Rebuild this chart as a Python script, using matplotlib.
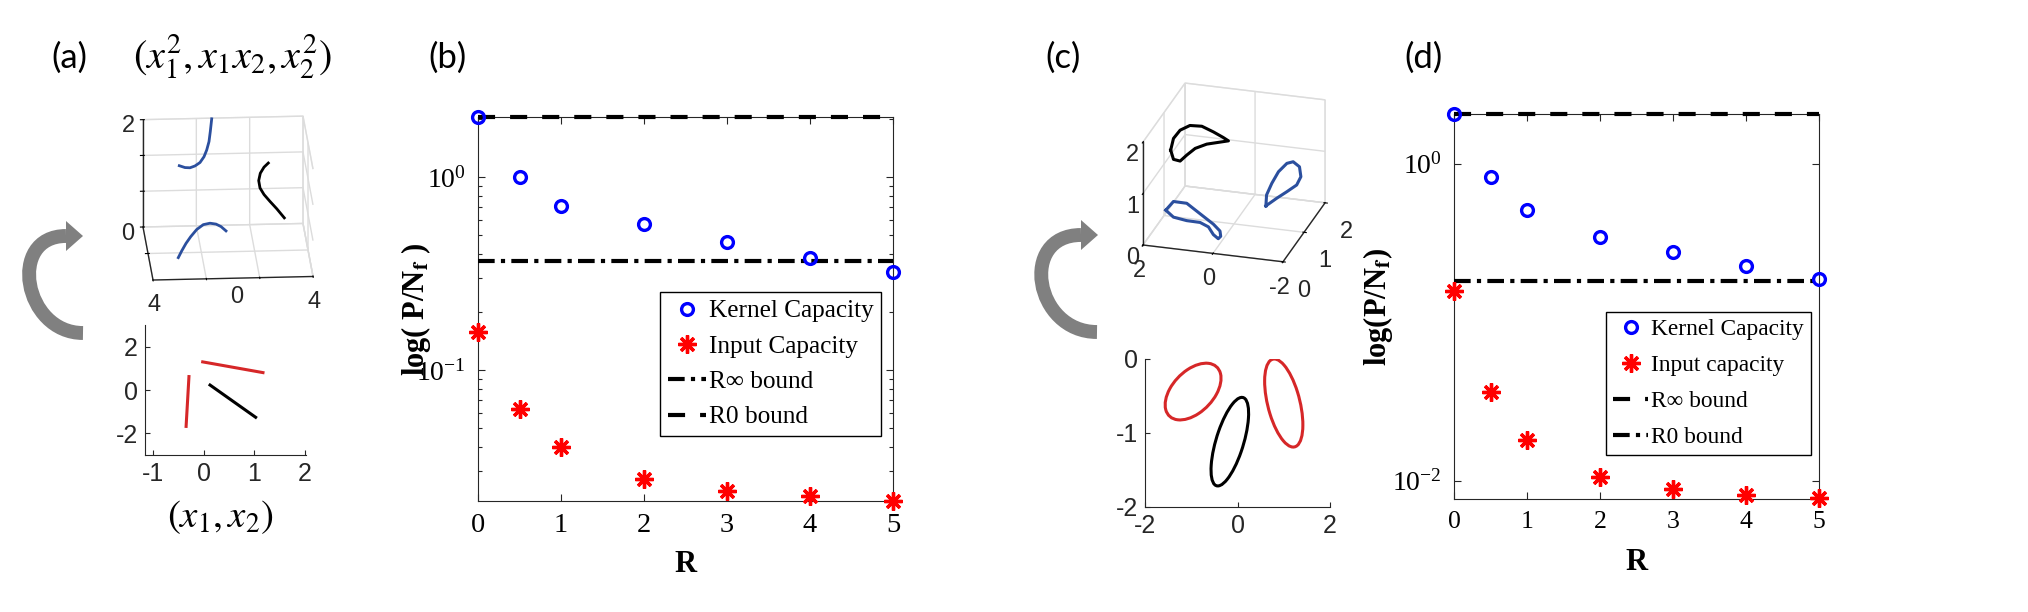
import numpy as np
import matplotlib
matplotlib.use('Agg')
import matplotlib.pyplot as plt
from matplotlib.patches import Ellipse, PathPatch, Polygon
from matplotlib.path import Path
from matplotlib.ticker import LogLocator, NullFormatter, FixedLocator, LogFormatterMathtext, NullLocator
from mpl_toolkits.mplot3d import proj3d

plt.rcParams.update({
    'font.family': ['Liberation Serif', 'DejaVu Serif'],
    'mathtext.fontset': 'stix',
    'axes.unicode_minus': False,
})

W, H, DPI = 2028, 612, 100

# ------------------------------------------------------------------ data
R_vals = [0, 0.5, 1, 2, 3, 4, 5]
R_ticks = [0, 1, 2, 3, 4, 5]

kernel_b = [2.05, 1.00, 0.71, 0.569, 0.46, 0.382, 0.321]
input_b = [0.158, 0.0626, 0.0396, 0.0271, 0.0236, 0.0221, 0.0209]
rinf_b = 0.368
r0_b = 2.05
labels_b = ['Kernel Capacity', 'Input Capacity', 'R\u221e bound', 'R0 bound']

kernel_d = [2.06, 0.83, 0.512, 0.344, 0.279, 0.227, 0.187]
input_d = [0.158, 0.0361, 0.0180, 0.0106, 0.0088, 0.0081, 0.0078]
rinf_d = 2.06
r0_d = 0.182
labels_d = ['Kernel Capacity', 'Input capacity', 'R\u221e bound', 'R0 bound']

# panel (a), input space segments
seg_red1_x = [-0.05, 1.20]; seg_red1_y = [1.31, 0.79]
seg_red2_x = [-0.29, -0.35]; seg_red2_y = [0.69, -1.75]
seg_blk_x = [0.10, 1.05];   seg_blk_y = [0.27, -1.30]

# panel (a), feature space curves (drawn on the back plane y = 4)
a3_blue1_x = [-2.185, -1.90, -1.65, -1.40, -1.15, -0.95, -0.815, -0.70, -0.635, -0.565]
a3_blue1_z = [1.127, 1.090, 1.084, 1.116, 1.178, 1.284, 1.408, 1.564, 1.751, 1.987]
a3_blue2_x = [-2.235, -2.065, -1.85, -1.615, -1.315, -0.985, -0.65, -0.35, -0.10, 0.15]
a3_blue2_z = [-0.585, -0.462, -0.323, -0.200, -0.069, 0.019, 0.043, 0.024, -0.024, -0.107]
a3_blk_x = [2.265, 2.05, 1.865, 1.785, 1.85, 2.05, 2.35, 2.685, 3.065]
a3_blk_z = [1.140, 1.065, 0.953, 0.817, 0.679, 0.555, 0.424, 0.286, 0.112]

# panel (c), input space ellipses: centre x, centre y, width, height, angle
ell_red1 = (-0.96, -0.44, 1.28, 0.64, 22.4)
ell_red2 = (1.00, -0.595, 1.288, 0.664, -63.5)
ell_blk = (-0.166, -1.117, 1.334, 0.56, 60.9)

# panel (c), feature space loops (x as labelled on the reversed axis)
c3_blk_x = [1.81, 1.73, 1.54, 1.26, 0.92, 0.59, 0.31, 0.16, 0.40, 0.78, 1.11, 1.35, 1.54, 1.73, 1.81]
c3_blk_z = [1.286, 1.519, 1.695, 1.809, 1.822, 1.739, 1.654, 1.600, 1.556, 1.486, 1.376, 1.227, 1.095, 1.113, 1.286]
c3_blk_y = 1.0
c3_blue1_x = [-0.91, -0.93, -1.08, -1.27, -1.51, -1.69, -1.87, -1.91, -1.79, -1.51, -1.22, -0.91]
c3_blue1_z = [0.424, 0.639, 0.877, 1.117, 1.299, 1.345, 1.262, 1.072, 0.902, 0.749, 0.598, 0.424]
c3_blue1_y = 1.0
c3_blue2_x = [1.35, 1.13, 0.75, 0.37, -0.01, -0.20, -0.22, -0.15, -0.01, 0.13, 0.37, 0.75, 1.13, 1.35]
c3_blue2_z = [0.730, 0.916, 0.912, 0.740, 0.569, 0.450, 0.350, 0.297, 0.366, 0.504, 0.571, 0.575, 0.612, 0.730]
c3_blue2_y = 0.0
c3_xticks = [2, 0, -2]

RED = '#d62728'
BLUE3 = '#2b4f9e'
GREY_TXT = '#262626'

fig = plt.figure(figsize=(W / DPI, H / DPI), dpi=DPI)


def rect(left, top, right, bottom):
    return [left / W, (H - bottom) / H, (right - left) / W, (bottom - top) / H]


def style_2d(ax):
    for s in ('top', 'right'):
        ax.spines[s].set_visible(False)
    for s in ('left', 'bottom'):
        ax.spines[s].set_color(GREY_TXT)
        ax.spines[s].set_linewidth(0.8)
    ax.tick_params(direction='in', length=3.5, width=0.8, color=GREY_TXT,
                   labelcolor=GREY_TXT, labelsize=18, labelfontfamily='Liberation Sans', pad=5)


def style_3d(ax):
    ax.set_proj_type('ortho')
    ax.set_facecolor('none')
    for axis in (ax.xaxis, ax.yaxis, ax.zaxis):
        axis.pane.set_facecolor((1, 1, 1, 0))
        axis.pane.set_edgecolor('#d4d4d4')
        axis._axinfo['grid'].update(color='#dcdcdc', linewidth=1.0)
        axis.line.set_color(GREY_TXT)
        axis.line.set_linewidth(1.0)
    for a in ('x', 'y', 'z'):
        ax.tick_params(axis=a, labelcolor=GREY_TXT, labelsize=17,
                       labelfontfamily='Liberation Sans', pad=0)


def place3d(ax, ptA, ptB, tgtA, tgtB):
    fig.canvas.draw()
    M = ax.get_proj()

    def disp(p):
        xs, ys, _ = proj3d.proj_transform(p[0], p[1], p[2], M)
        return np.array(ax.transData.transform((xs, ys)))
    dA, dB = disp(ptA), disp(ptB)
    tA = np.array([tgtA[0], H - tgtA[1]])
    tB = np.array([tgtB[0], H - tgtB[1]])
    k = (tB[0] - tA[0]) / (dB[0] - dA[0])
    pos = ax.get_position()
    c = np.array([(pos.x0 + pos.x1) / 2 * W, (pos.y0 + pos.y1) / 2 * H])
    w, h = pos.width * W * k, pos.height * H * k
    nc = tA - k * (dA - c)
    ax.set_position([(nc[0] - w / 2) / W, (nc[1] - h / 2) / H, w / W, h / H])


def curved_arrow(tail, apex_x, head, hl=17, hw=15, lw=10, color='#808080'):
    tx, ty = tail
    hx, hy = head
    bx = hx - hl
    k = ((tx + bx) / 2 - apex_x) / 0.75
    verts = [(tx, ty), (tx - k, ty), (bx - k, hy), (bx, hy)]
    verts = [(x / W, (H - y) / H) for x, y in verts]
    body = PathPatch(Path(verts, [Path.MOVETO, Path.CURVE4, Path.CURVE4, Path.CURVE4]),
                     fill=False, lw=lw, edgecolor=color, capstyle='butt',
                     transform=fig.transFigure)
    fig.add_artist(body)
    tri = [(hx, hy), (bx, hy - hw), (bx, hy + hw)]
    tri = [(x / W, (H - y) / H) for x, y in tri]
    fig.add_artist(Polygon(tri, closed=True, facecolor=color, edgecolor='none',
                           transform=fig.transFigure))


# ------------------------------------------------------------------ (a) 2D
ax_a2 = fig.add_axes(rect(145, 325, 306, 455))
ax_a2.plot(seg_red1_x, seg_red1_y, color=RED, lw=2.2, solid_capstyle='butt')
ax_a2.plot(seg_red2_x, seg_red2_y, color=RED, lw=2.2, solid_capstyle='butt')
ax_a2.plot(seg_blk_x, seg_blk_y, color='k', lw=2.2, solid_capstyle='butt')
ax_a2.set_xlim(-1.16, 2.02)
ax_a2.set_ylim(-3.0, 3.0)
ax_a2.set_xticks([-1, 0, 1, 2])
ax_a2.set_yticks([-2, 0, 2])
style_2d(ax_a2)

# ------------------------------------------------------------------ (a) 3D
ax_a3 = fig.add_axes([100 / W, 0.5, 230 / W, 230 / H], projection='3d')
style_3d(ax_a3)
ax_a3.view_init(elev=20, azim=-93.7)
ax_a3.set_box_aspect((160, 155, 114))
ax_a3.plot(a3_blue1_x, [4] * len(a3_blue1_x), a3_blue1_z, color=BLUE3, lw=2.0)
ax_a3.plot(a3_blue2_x, [4] * len(a3_blue2_x), a3_blue2_z, color=BLUE3, lw=2.0)
ax_a3.plot(a3_blk_x, [4] * len(a3_blk_x), a3_blk_z, color='k', lw=2.0)
ax_a3.set_xlim(-4, 4)
ax_a3.set_ylim(-4, 4)
ax_a3.set_zlim(0, 2)
ax_a3.set_xticks([-4, -4 / 3, 4 / 3, 4])
ax_a3.set_xticklabels(['4', '', '', '4'])
ax_a3.set_yticks([0])
ax_a3.yaxis.set_major_formatter(NullFormatter())
ax_a3.set_zticks([0, 2 / 3, 4 / 3, 2])
ax_a3.set_zticklabels(['0', '', '', '2'])

# ------------------------------------------------------------------ (c) 2D
ax_c2 = fig.add_axes(rect(1145, 359, 1330, 507))
for (cx, cy, w_, h_, ang), col in ((ell_red1, RED), (ell_red2, RED), (ell_blk, 'k')):
    ax_c2.add_patch(Ellipse((cx, cy), w_, h_, angle=ang, fill=False, edgecolor=col, lw=2.2))
ax_c2.set_xlim(-2, 2)
ax_c2.set_ylim(-2, 0)
ax_c2.set_xticks([-2, 0, 2])
ax_c2.set_yticks([-2, -1, 0])
style_2d(ax_c2)

# ------------------------------------------------------------------ (c) 3D
# the x axis of this panel runs from 2 (left) to -2 (right): plot -x
ax_c3 = fig.add_axes([1090 / W, 0.5, 250 / W, 250 / H], projection='3d')
style_3d(ax_c3)
ax_c3.view_init(elev=24.2, azim=-73.7)
ax_c3.set_box_aspect((146, 150, 113))
ax_c3.plot(-np.array(c3_blk_x), [c3_blk_y] * len(c3_blk_x), c3_blk_z, color='k', lw=2.2)
ax_c3.plot(-np.array(c3_blue1_x), [c3_blue1_y] * len(c3_blue1_x), c3_blue1_z, color=BLUE3, lw=2.2)
ax_c3.plot(-np.array(c3_blue2_x), [c3_blue2_y] * len(c3_blue2_x), c3_blue2_z, color=BLUE3, lw=2.2)
ax_c3.set_xlim(-2, 2)
ax_c3.set_ylim(0, 2)
ax_c3.set_zlim(0, 2)
ax_c3.set_xticks([-v for v in c3_xticks])
ax_c3.set_xticklabels([str(v) for v in c3_xticks])
ax_c3.set_yticks([0, 1, 2])
ax_c3.set_zticks([0, 1, 2])
ax_c3.zaxis.set_ticks_position('lower')
ax_c3.zaxis.set_label_position('lower')
ax_c3.tick_params(axis='z', pad=-3)
ax_c3.tick_params(axis='y', pad=5)

# ------------------------------------------------------------------ (b) and (d)
def capacity_panel(ax, kern, inp, line_top_style, line_mid_value, line_mid_style,
                   labels, order_top_first, yl, ylab, ylab_x, leg_anchor, major, minor,
                   xtick_size, leg_size, leg_spacing):
    h1, = ax.plot(R_vals, kern, ls='none', marker='o', mfc='none', mec='#0000ff',
                  ms=8.5, mew=2.4, clip_on=False, zorder=5)
    h2, = ax.plot(R_vals, inp, ls='none', marker=(8, 2, 0), color='#ff0000',
                  mec='#ff0000', ms=13, mew=2.4, clip_on=False, zorder=5)
    hm = ax.axhline(line_mid_value, color='k', lw=3, ls=line_mid_style, zorder=4)
    ht = ax.axhline(yl[1], color='k', lw=3, ls=line_top_style, clip_on=False, zorder=4)
    ax.set_yscale('log')
    ax.set_xlim(0, 5)
    ax.set_ylim(*yl)
    ax.set_xticks(R_ticks)
    ax.yaxis.set_major_locator(FixedLocator(major))
    ax.yaxis.set_major_formatter(LogFormatterMathtext())
    if minor:
        ax.yaxis.set_minor_locator(LogLocator(base=10, subs=np.arange(2, 10)))
    else:
        ax.yaxis.set_minor_locator(NullLocator())
    ax.yaxis.set_minor_formatter(NullFormatter())
    ax.tick_params(which='both', direction='in', top=True, right=True, color='#262626',
                   width=0.8)
    ax.tick_params(axis='x', labelsize=xtick_size)
    ax.tick_params(axis='y', labelsize=20)
    ax.tick_params(which='major', length=5, pad=9)
    ax.tick_params(which='minor', length=3)
    for s in ax.spines.values():
        s.set_color('#262626')
        s.set_linewidth(0.8)
    ax.set_xlabel('R', fontsize=22, fontweight='bold')
    ax.xaxis.set_label_coords(0.5, -0.128)
    ax.set_ylabel(ylab, fontsize=22, fontweight='bold')
    ax.yaxis.set_label_coords(ylab_x, 0.5)
    if order_top_first:
        handles = [h1, h2, ht, hm]
    else:
        handles = [h1, h2, hm, ht]
    leg = ax.legend(handles, labels, loc='upper right', bbox_to_anchor=leg_anchor,
                    fontsize=leg_size, frameon=True, fancybox=False, edgecolor='k',
                    framealpha=1, borderpad=0.3, handlelength=1.5, handletextpad=0.12,
                    labelspacing=leg_spacing, borderaxespad=0, numpoints=1)
    leg.get_frame().set_linewidth(1.0)
    return ax


DASH = (0, (4.1, 3.6))
DASHDOT = (0, (4.0, 1.5, 1.0, 1.5))

ax_b = fig.add_axes(rect(478, 117, 893, 501))
capacity_panel(ax_b, kernel_b, input_b, DASH, rinf_b, DASHDOT, labels_b, False,
               (0.0209, r0_b), 'log( P/N$_\\mathbf{f}$ )', -0.108, (0.971, 0.544),
               [0.1, 1.0], True, 20.5, 18.2, 0.5)

ax_d = fig.add_axes(rect(1454, 114, 1819, 499))
capacity_panel(ax_d, kernel_d, input_d, DASH, r0_d, DASHDOT, labels_d, True,
               (0.00765, rinf_d), 'log(P/N$_\\mathbf{f}$)', -0.162, (0.978, 0.486),
               [0.01, 1.0], False, 18.5, 16.8, 0.63)

# ------------------------------------------------------------------ texts
for s, x in (('(a)', 69), ('(b)', 447), ('(c)', 1063), ('(d)', 1424)):
    fig.text(x / W, (H - 58) / H, s, fontsize=25, family='Lato', ha='center', va='center')
fig.text(232 / W, (H - 57) / H, r'$(x_1^2,x_1x_2,x_2^2)$', fontsize=29, ha='center', va='center')
fig.text(220 / W, (H - 517) / H, r'$(x_1,x_2)$', fontsize=28, ha='center', va='center')
fig.text(237 / W, (H - 297) / H, '0', fontsize=17, family='Liberation Sans', color=GREY_TXT,
         ha='center', va='center')

curved_arrow((83, 333), 30, (83, 236))
curved_arrow((1097, 332), 1042, (1098, 235))

# place the 3D boxes
place3d(ax_a3, (-4, 4, 0), (4, 4, 2), (143, 227), (303, 120))
place3d(ax_c3, (-2, 0, 0), (2, 0, 0), (1143, 245), (1283, 262))

fig.savefig('out.png', dpi=DPI)
